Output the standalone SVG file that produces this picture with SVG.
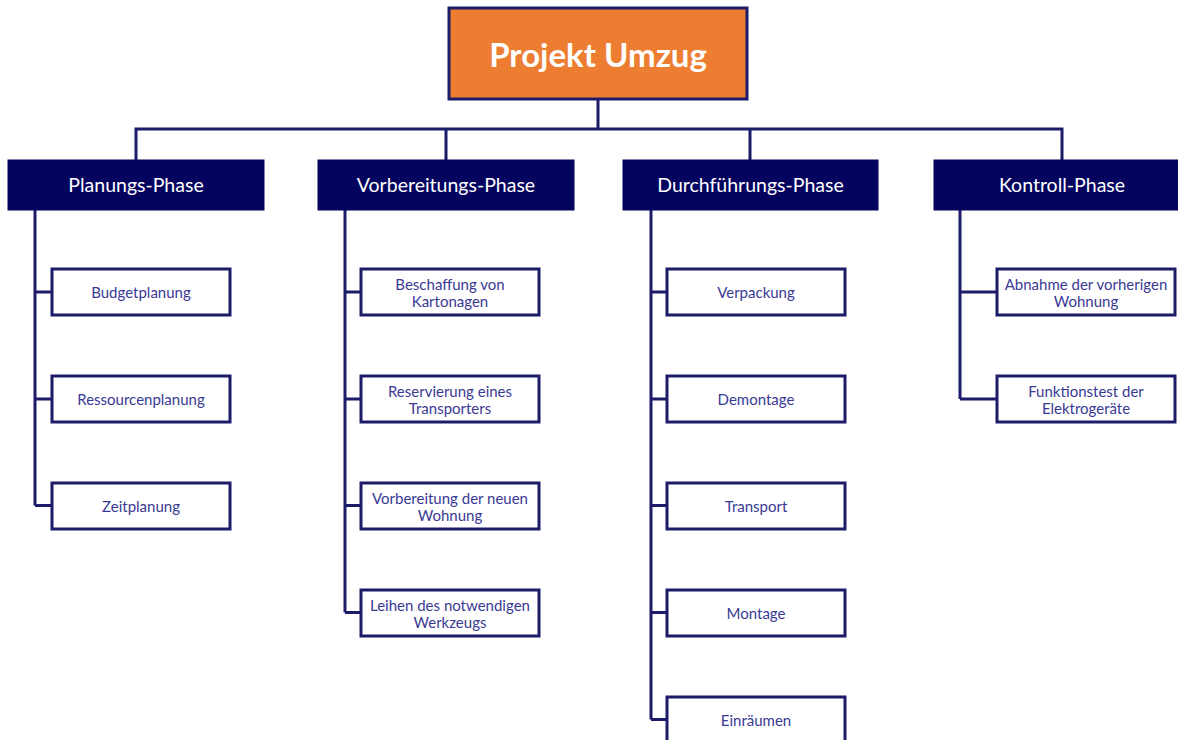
<svg xmlns="http://www.w3.org/2000/svg" width="1178" height="740" viewBox="0 0 1178 740">
<style>
.conn{fill:none;stroke:#1c1c6b;stroke-width:3}
.root rect{fill:#ED7D31;stroke:#1c1c6b;stroke-width:3}
.root text{fill:#fff;font-family:Lato,"Open Sans",sans-serif;font-weight:bold;font-size:33px;text-anchor:middle;dominant-baseline:central}
.phase rect{fill:#04045f;stroke:#04045f;stroke-width:1}
.phase text{fill:#fff;font-family:Lato,"Open Sans",sans-serif;font-size:19.5px;text-anchor:middle;dominant-baseline:central}
.task rect{fill:#fff;stroke:#1c1c6b;stroke-width:3}
.task text{fill:#3a3a94;font-family:Lato,"Open Sans",sans-serif;font-size:15px;text-anchor:middle;dominant-baseline:central}
</style>
<rect width="1178" height="740" fill="#fff"/>
<g id="connectors" class="conn">
<path d="M598 99V129M136 160V129H1062V160M446 129V160M750 129V160"/>
<path d="M35 210V505.5M35 292H52M35 399H52M35 505.5H52"/>
<path d="M345 210V612.5M345 292H361M345 399H361M345 505.5H361M345 612.5H361"/>
<path d="M651 210V719.5M651 292H667M651 399H667M651 505.5H667M651 612.5H667M651 719.5H667"/>
<path d="M960 210V399M960 292H997M960 399H997"/>
</g>
<g id="root" class="root"><rect x="449" y="8" width="298" height="91"/><text x="598" y="54">Projekt Umzug</text></g>
<g id="phase-planung" class="phase"><rect x="8" y="160" width="256" height="50"/><text x="136" y="184">Planungs-Phase</text></g>
<g id="phase-vorbereitung" class="phase"><rect x="318" y="160" width="256" height="50"/><text x="446" y="184">Vorbereitungs-Phase</text></g>
<g id="phase-durchfuehrung" class="phase"><rect x="623" y="160" width="255" height="50"/><text x="750.5" y="184">Durchführungs-Phase</text></g>
<g id="phase-kontrolle" class="phase"><rect x="934" y="160" width="256" height="50"/><text x="1062" y="184">Kontroll-Phase</text></g>

<g id="task-budget" class="task"><rect x="52" y="269" width="178" height="46"/><text x="141" y="292">Budgetplanung</text></g>
<g id="task-ressourcen" class="task"><rect x="52" y="376" width="178" height="46"/><text x="141" y="399">Ressourcenplanung</text></g>
<g id="task-zeit" class="task"><rect x="52" y="483" width="178" height="46"/><text x="141" y="506">Zeitplanung</text></g>

<g id="task-kartonagen" class="task"><rect x="361" y="269" width="178" height="46"/><text x="450" y="284">Beschaffung von</text><text x="450" y="301">Kartonagen</text></g>
<g id="task-transporter" class="task"><rect x="361" y="376" width="178" height="46"/><text x="450" y="391">Reservierung eines</text><text x="450" y="408">Transporters</text></g>
<g id="task-wohnung" class="task"><rect x="361" y="483" width="178" height="46"/><text x="450" y="498">Vorbereitung der neuen</text><text x="450" y="515">Wohnung</text></g>
<g id="task-werkzeug" class="task"><rect x="361" y="590" width="178" height="46"/><text x="450" y="605">Leihen des notwendigen</text><text x="450" y="622">Werkzeugs</text></g>

<g id="task-verpackung" class="task"><rect x="667" y="269" width="178" height="46"/><text x="756" y="292">Verpackung</text></g>
<g id="task-demontage" class="task"><rect x="667" y="376" width="178" height="46"/><text x="756" y="399">Demontage</text></g>
<g id="task-transport" class="task"><rect x="667" y="483" width="178" height="46"/><text x="756" y="506">Transport</text></g>
<g id="task-montage" class="task"><rect x="667" y="590" width="178" height="46"/><text x="756" y="613">Montage</text></g>
<g id="task-einraeumen" class="task"><rect x="667" y="697" width="178" height="46"/><text x="756" y="720">Einräumen</text></g>

<g id="task-abnahme" class="task"><rect x="997" y="269" width="178" height="46"/><text x="1086" y="284">Abnahme der vorherigen</text><text x="1086" y="301">Wohnung</text></g>
<g id="task-funktionstest" class="task"><rect x="997" y="376" width="178" height="46"/><text x="1086" y="391">Funktionstest der</text><text x="1086" y="408">Elektrogeräte</text></g>
</svg>
